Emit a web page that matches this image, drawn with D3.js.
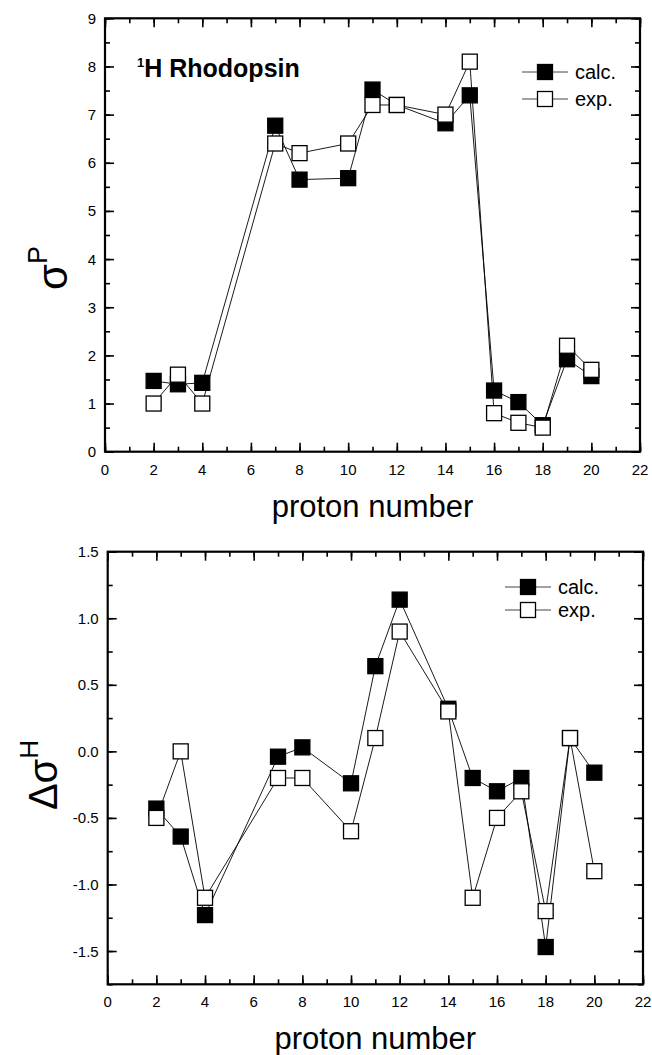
<!DOCTYPE html>
<html>
<head>
<meta charset="utf-8">
<script src="https://cdn.jsdelivr.net/npm/d3@7"></script>
<style>
  body { margin: 0; background: #fff; }
  svg { display: block; }
  text { font-family: "Liberation Sans", Arial, sans-serif; fill: #000; }
</style>
</head>
<body>
<div class="chart"></div>
<script>
// proton numbers shared by both panels
var protons = [2, 3, 4, 7, 8, 10, 11, 12, 14, 15, 16, 17, 18, 19, 20];

// top panel: sigma^P
var sigmaCalc = [1.47, 1.40, 1.43, 6.77, 5.65, 5.68, 7.52, 7.20, 6.82, 7.40, 1.27, 1.03, 0.55, 1.92, 1.57];
var sigmaExp  = [1.00, 1.60, 1.00, 6.40, 6.20, 6.40, 7.20, 7.20, 7.00, 8.10, 0.80, 0.60, 0.50, 2.20, 1.70];

// bottom panel: delta sigma^H
var deltaCalc = [-0.43, -0.64, -1.23, -0.04, 0.03, -0.24, 0.64, 1.14, 0.32, -0.20, -0.30, -0.20, -1.47, 0.10, -0.16];
var deltaExp  = [-0.50, 0.00, -1.10, -0.20, -0.20, -0.60, 0.10, 0.90, 0.30, -1.10, -0.50, -0.30, -1.20, 0.10, -0.90];

var xTicks = [0, 2, 4, 6, 8, 10, 12, 14, 16, 18, 20, 22];
var topYTicks = [0, 1, 2, 3, 4, 5, 6, 7, 8, 9];
var botYTicks = [-1.5, -1.0, -0.5, 0.0, 0.5, 1.0, 1.5];
var seriesNames = ["calc.", "exp."];

var width = 652, height = 1055;
var svg = d3.select(".chart").append("svg")
    .attr("width", width)
    .attr("height", height);

function drawPanel(cfg)
{
    var x = d3.scaleLinear().domain([0, 22]).range([cfg.left, cfg.right]);
    var y = d3.scaleLinear().domain(cfg.yDomain).range([cfg.bottom, cfg.top]);
    var g = svg.append("g");

    var minorX = d3.range(0, 22.001, 1);
    var minorY = d3.range(cfg.yDomain[0], cfg.yDomain[1] + 1e-6, cfg.yMinor);

    // axes with inward ticks, mirrored on top / right
    function tickAxis(axis, ticks, size) {
        return axis.tickValues(ticks).tickSizeInner(size).tickSizeOuter(0).tickFormat("");
    }

    [[d3.axisTop, "0," + cfg.bottom, x, minorX, xTicks],
     [d3.axisBottom, "0," + cfg.top, x, minorX, xTicks],
     [d3.axisRight, cfg.left + ",0", y, minorY, cfg.yTicks],
     [d3.axisLeft, cfg.right + ",0", y, minorY, cfg.yTicks]].forEach(function (a) {
        g.append("g").attr("transform", "translate(" + a[1] + ")")
            .call(tickAxis(a[0](a[2]), a[3], 5));
        g.append("g").attr("transform", "translate(" + a[1] + ")")
            .call(tickAxis(a[0](a[2]), a[4], 9));
    });

    g.selectAll(".domain").remove();
    g.selectAll(".tick line").attr("stroke", "#000").attr("stroke-width", 1.6);

    // frame
    g.append("rect")
        .attr("x", cfg.left).attr("y", cfg.top)
        .attr("width", cfg.right - cfg.left).attr("height", cfg.bottom - cfg.top)
        .attr("fill", "none").attr("stroke", "#000").attr("stroke-width", 2.2);

    // tick labels
    g.selectAll(".xl").data(xTicks).enter().append("text")
        .attr("x", function (d) { return x(d); })
        .attr("y", cfg.bottom + 23)
        .attr("text-anchor", "middle")
        .style("font-size", "15px")
        .text(function (d) { return d; });
    g.selectAll(".yl").data(cfg.yTicks).enter().append("text")
        .attr("x", cfg.left - 9)
        .attr("y", function (d) { return y(d) + 5.5; })
        .attr("text-anchor", "end")
        .style("font-size", "15px")
        .text(cfg.yFormat);

    // x title
    g.append("text")
        .attr("x", (cfg.left + cfg.right) / 2)
        .attr("y", cfg.xTitleY)
        .attr("text-anchor", "middle")
        .style("font-size", "31px")
        .text("proton number");

    // series: calc first, exp on top
    var line = d3.line()
        .x(function (d) { return x(d[0]); })
        .y(function (d) { return y(d[1]); });
    var ms = 15;
    [cfg.calc, cfg.exp].forEach(function (vals, si) {
        var pts = protons.map(function (p, i) { return [p, vals[i]]; });
        g.append("path").datum(pts)
            .attr("d", line)
            .attr("fill", "none")
            .attr("stroke", "#000")
            .attr("stroke-width", 0.9);
        g.selectAll(".m" + si).data(pts).enter().append("rect")
            .attr("x", function (d) { return x(d[0]) - ms / 2; })
            .attr("y", function (d) { return y(d[1]) - ms / 2; })
            .attr("width", ms).attr("height", ms)
            .attr("fill", si === 0 ? "#000" : "#fff")
            .attr("stroke", "#000")
            .attr("stroke-width", 1.3);
    });

    // legend
    seriesNames.forEach(function (name, i) {
        var ly = cfg.legY + i * cfg.legGap;
        g.append("line")
            .attr("x1", cfg.legX).attr("x2", cfg.legX + 46)
            .attr("y1", ly).attr("y2", ly)
            .attr("stroke", "#444").attr("stroke-width", 1);
        g.append("rect")
            .attr("x", cfg.legX + 23 - 7.5).attr("y", ly - 7.5)
            .attr("width", 15).attr("height", 15)
            .attr("fill", i === 0 ? "#000" : "#fff")
            .attr("stroke", "#000").attr("stroke-width", 1.3);
        g.append("text")
            .attr("x", cfg.legX + 53).attr("y", ly + 7)
            .style("font-size", "20px")
            .text(name);
    });

    return g;
}

var topPanel = drawPanel({
    left: 105, right: 640, top: 18.3, bottom: 451.7,
    yDomain: [0, 9], yTicks: topYTicks, yMinor: 0.5,
    yFormat: function (d) { return d; },
    calc: sigmaCalc, exp: sigmaExp,
    xTitleY: 517, legX: 522, legY: 72, legGap: 27
});

var bottomPanel = drawPanel({
    left: 107.7, right: 643, top: 551.7, bottom: 984.3,
    yDomain: [-1.75, 1.5], yTicks: botYTicks, yMinor: 0.25,
    yFormat: function (d) { return d.toFixed(1); },
    calc: deltaCalc, exp: deltaExp,
    xTitleY: 1049, legX: 505, legY: 587, legGap: 23
});

// panel title
var title = topPanel.append("text")
    .attr("x", 137).attr("y", 77)
    .style("font-size", "25px")
    .style("font-weight", "bold");
title.append("tspan").attr("dy", -10).style("font-size", "13px").text("1");
title.append("tspan").attr("dy", 10).text("H Rhodopsin");

// y titles (rotated)
var yt1 = topPanel.append("text")
    .attr("transform", "translate(67,268) rotate(-90)")
    .attr("text-anchor", "middle")
    .style("font-size", "42px");
yt1.append("tspan").text("\u03C3");
yt1.append("tspan").attr("dy", -20).style("font-size", "27px").text("P");

var yt2 = bottomPanel.append("text")
    .attr("transform", "translate(57,775) rotate(-90)")
    .attr("text-anchor", "middle")
    .style("font-size", "40px");
yt2.append("tspan").text("\u0394\u03C3");
yt2.append("tspan").attr("dy", -19).style("font-size", "26px").text("H");
</script>
</body>
</html>
